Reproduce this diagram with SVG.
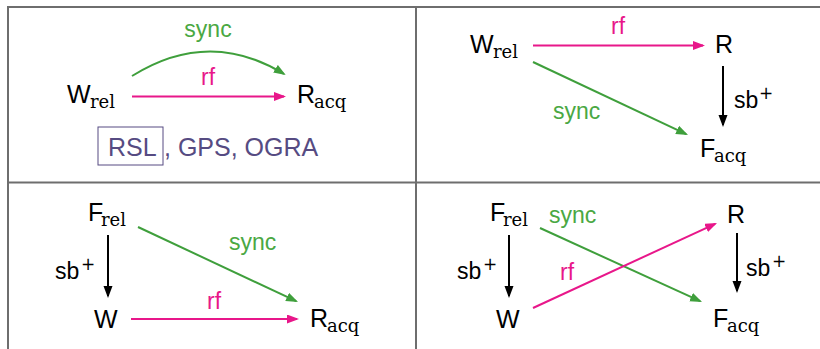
<svg xmlns="http://www.w3.org/2000/svg" width="820" height="349" viewBox="0 0 820 349">
<style>
.grid{stroke:#6e6e6e;stroke-width:2;fill:none}
.n{font-family:"Liberation Sans",Arial,sans-serif;font-size:25px;fill:#000}
.s{font-family:"DejaVu Serif","Liberation Serif",serif;font-size:18px;fill:#000}
.lab{font-family:"Liberation Sans",Arial,sans-serif;font-size:23px}
.sup{font-family:"DejaVu Sans",sans-serif;font-size:17px;fill:#000}
.g{fill:#4aa843}
.p{fill:#e8178a}
.k{fill:#000}
.eg{stroke:#3f9f3c;stroke-width:2;fill:none;marker-end:url(#mg)}
.ep{stroke:#e8178a;stroke-width:2;fill:none;marker-end:url(#mp)}
.ek{stroke:#000;stroke-width:2;fill:none;marker-end:url(#mk)}
.mod{font-family:"Liberation Sans",Arial,sans-serif;font-size:25px;fill:#564b82}
</style>
<defs>
<marker id="mg" markerUnits="userSpaceOnUse" markerWidth="13" markerHeight="10" refX="10" refY="4.5" orient="auto"><path d="M0,0 L12,4.5 L0,9 z" fill="#3f9f3c"/></marker>
<marker id="mp" markerUnits="userSpaceOnUse" markerWidth="13" markerHeight="10" refX="10" refY="4.5" orient="auto"><path d="M0,0 L12,4.5 L0,9 z" fill="#e8178a"/></marker>
<marker id="mk" markerUnits="userSpaceOnUse" markerWidth="13" markerHeight="10" refX="10" refY="4.5" orient="auto"><path d="M0,0 L12,4.5 L0,9 z" fill="#000"/></marker>
</defs>

<g id="table">
<line class="grid" x1="8" y1="7" x2="820" y2="7"/>
<line class="grid" x1="8" y1="182.5" x2="820" y2="182.5"/>
<line class="grid" x1="8" y1="6" x2="8" y2="349"/>
<line class="grid" x1="416" y1="6" x2="416" y2="349"/>
</g>

<!-- Panel 1 -->
<g id="p1-Wrel"><text class="n" x="67" y="103">W</text><text class="s" x="90" y="108">rel</text></g>
<g id="p1-Racq"><text class="n" x="297" y="103">R</text><text class="s" x="314" y="108">acq</text></g>
<g id="p1-models">
<rect x="98" y="127" width="65" height="38" fill="none" stroke="#564b82" stroke-width="1"/>
<text class="mod" x="108" y="156">RSL</text>
<text class="mod" x="164" y="156">, GPS, OGRA</text>
</g>

<!-- Panel 2 -->
<g id="p2-Wrel"><text class="n" x="470" y="53">W</text><text class="s" x="493" y="58">rel</text></g>
<g id="p2-R"><text class="n" x="715" y="53">R</text></g>
<g id="p2-Facq"><text class="n" x="700" y="157">F</text><text class="s" x="714" y="162">acq</text></g>

<!-- Panel 3 -->
<g id="p3-Frel"><text class="n" x="88" y="221">F</text><text class="s" x="101" y="226">rel</text></g>
<g id="p3-W"><text class="n" x="94" y="328">W</text></g>
<g id="p3-Racq"><text class="n" x="310" y="327">R</text><text class="s" x="327" y="332">acq</text></g>

<!-- Panel 4 -->
<g id="p4-Frel"><text class="n" x="490" y="221">F</text><text class="s" x="503" y="226">rel</text></g>
<g id="p4-W"><text class="n" x="496" y="328">W</text></g>
<g id="p4-R"><text class="n" x="727" y="223">R</text></g>
<g id="p4-Facq"><text class="n" x="713" y="327">F</text><text class="s" x="727" y="332">acq</text></g>

<g id="connectors">
<path class="eg" d="M132,76 Q209,28 284,74"/>
<path class="ep" d="M132,96.5 H284"/>
<path class="ep" d="M533,45.5 H703"/>
<path class="ek" d="M723,66 V125"/>
<path class="eg" d="M533,62 L686.2,134.1"/>
<path class="ek" d="M108,235 V296"/>
<path class="ep" d="M131,319 H297"/>
<path class="eg" d="M138,227 L296.2,301.2"/>
<path class="ek" d="M509,235 V296"/>
<path class="ek" d="M737,233 V291"/>
<path class="eg" d="M540,228 L700.2,301.2"/>
<path class="ep" d="M533,308 L715.2,223.8"/>
</g>

<g id="labels">
<text class="lab g" x="208" y="37" text-anchor="middle">sync</text>
<text class="lab p" x="208" y="85" text-anchor="middle">rf</text>
<text class="lab p" x="618" y="34" text-anchor="middle">rf</text>
<text class="lab g" x="553" y="119">sync</text>
<text class="lab k" x="734" y="108">sb</text><text class="sup" x="759" y="99">+</text>
<text class="lab g" x="229" y="250">sync</text>
<text class="lab p" x="214" y="309" text-anchor="middle">rf</text>
<text class="lab k" x="55" y="279">sb</text><text class="sup" x="81" y="270">+</text>
<text class="lab g" x="549" y="223">sync</text>
<text class="lab p" x="560" y="280">rf</text>
<text class="lab k" x="457" y="279">sb</text><text class="sup" x="483" y="270">+</text>
<text class="lab k" x="746" y="276">sb</text><text class="sup" x="772" y="267">+</text>
</g>
</svg>
